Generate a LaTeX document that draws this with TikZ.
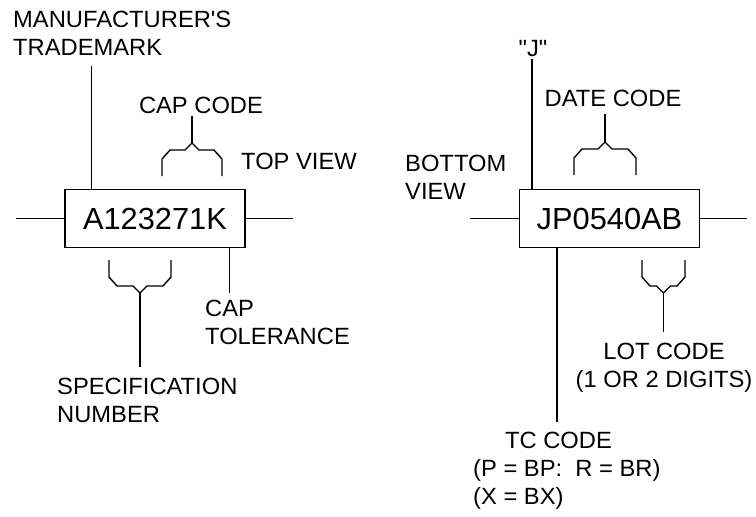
\documentclass[tikz,border=0pt]{standalone}
\usepackage{fontspec}
\setmainfont{Liberation Sans}[FakeStretch=1.01]
\usetikzlibrary{positioning,calc}

\begin{document}
\begin{tikzpicture}[
    x=1pt, y=-1pt,
    wire/.style={line width=1.4pt, draw=black},
    chip/.style={draw, line width=1.4pt, minimum width=180pt, minimum height=58pt, inner sep=0pt, font=\fontsize{30.5}{34}\selectfont},
    annot/.style={inner sep=2pt, align=left, font=\fontsize{23.5}{28}\selectfont},
    pics/codebrace/.style 2 args={code={
        \draw[wire] (-#1,{33*(#2)}) -- (-#1,{16*(#2)}) -- (-#1+8,{7*(#2)}) -- (-7,{7*(#2)}) -- (0,0)
            -- (7,{7*(#2)}) -- (#1-8,{7*(#2)}) -- (#1,{16*(#2)}) -- (#1,{33*(#2)});
        \coordinate (-tip) at (0,0);}}
]
\useasboundingbox (0,0) rectangle (756,517);

    % Top view marking
    \node[chip] (topchip) at (155,218.5) {A123271K};
    \coordinate[left=48pt of topchip.west] (topleadL);
    \coordinate[right=47pt of topchip.east] (topleadR);
    \draw[wire] (topleadL) -- (topchip.west);
    \draw[wire] (topchip.east) -- (topleadR);

    \node[annot, anchor=north west] (trademark) at (11,9) {MANUFACTURER\textquotesingle S\\TRADEMARK};
    \node[annot, anchor=north] (capcode) at (201,95) {CAP CODE};
    \node[annot, anchor=north west] (topview) at (239,151) {TOP VIEW};
    \node[annot, anchor=north west] (captol) at (203,298) {CAP\\TOLERANCE};
    \node[annot, anchor=north west] (specnum) at (55,376) {SPECIFICATION\\NUMBER};

    \pic (capbr) at (192,143) {codebrace={30}{1}};
    \pic (specbr) at (140,293) {codebrace={31}{-1}};

    \coordinate (tmfoot) at ([xshift=27pt]topchip.north west);
    \coordinate (tolfoot) at ([xshift=-16pt]topchip.south east);
    \draw[wire, shorten >=8pt] (tmfoot) -- (tmfoot |- trademark.south);
    \draw[wire] (capbr-tip) -- (capbr-tip |- capcode.south);
    \draw[wire, shorten >=5pt] (tolfoot) -- (tolfoot |- captol.north);
    \draw[wire, shorten >=9pt] (specbr-tip) -- (specbr-tip |- specnum.north);

    % Bottom view marking
    \node[chip] (botchip) at (609.5,218.5) {JP0540AB};
    \coordinate[left=49pt of botchip.west] (botleadL);
    \coordinate[right=47pt of botchip.east] (botleadR);
    \draw[wire] (botleadL) -- (botchip.west);
    \draw[wire] (botchip.east) -- (botleadR);

    \node[annot, anchor=north] (jmark) at (533,38) {\textquotedbl J\textquotedbl};
    \node[annot, anchor=north] (datecode) at (613,88) {DATE CODE};
    \node[annot, anchor=north west] (botview) at (403,153) {BOTTOM\\VIEW};
    \node[annot, anchor=north, align=center] (lotcode) at (664,341) {LOT CODE\\(1 OR 2 DIGITS)};
    \node[annot, anchor=north] (tccode) at (558.5,430) {TC CODE};
    \node[annot, anchor=north west] (tcvalues) at (471,457) {(P = BP:\ \ R = BR)\\(X = BX)};

    \pic (datebr) at (605,142) {codebrace={31}{1}};
    \pic (lotbr) at (663.5,293) {codebrace={21.5}{-1}};

    \coordinate (jfoot) at ([xshift=13pt]botchip.north west);
    \coordinate (tcfoot) at ([xshift=38pt]botchip.south west);
    \draw[wire] (jfoot) -- (jfoot |- jmark.south);
    \draw[wire, shorten >=5pt] (datebr-tip) -- (datebr-tip |- datecode.south);
    \draw[wire, shorten >=9pt] (lotbr-tip) -- (lotbr-tip |- lotcode.north);
    \draw[wire, shorten >=8pt] (tcfoot) -- (tcfoot |- tccode.north);
\end{tikzpicture}
\end{document}
